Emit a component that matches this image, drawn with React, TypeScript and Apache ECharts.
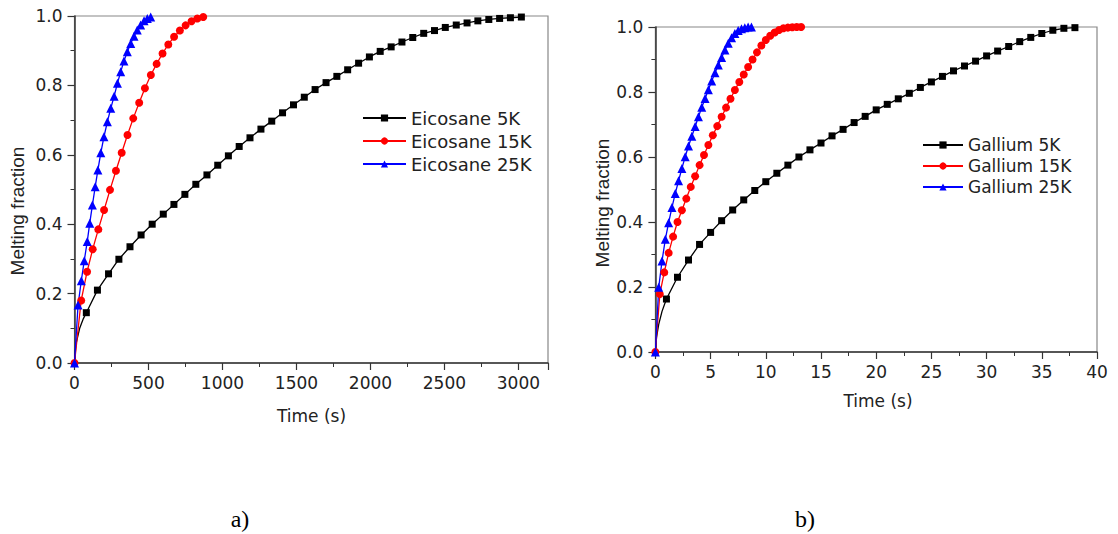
import React, { useEffect, useRef } from "react";
import * as echarts from "echarts";

// ---------- Data: Eicosane (panel a) ----------
const eic5kT = [0, 10, 35, 60, 80, 155, 230, 300, 375, 450, 525, 600, 672, 746, 820, 895, 968, 1040, 1113, 1186, 1260, 1333, 1406, 1480, 1553, 1626, 1700, 1773, 1846, 1920, 1993, 2066, 2140, 2213, 2286, 2360, 2433, 2506, 2580, 2653, 2726, 2800, 2873, 2946, 3020];
const eic5kV = [0, 0.055, 0.1, 0.128, 0.145, 0.21, 0.257, 0.299, 0.335, 0.369, 0.4, 0.429, 0.457, 0.486, 0.515, 0.542, 0.57, 0.597, 0.624, 0.649, 0.674, 0.697, 0.721, 0.744, 0.766, 0.788, 0.808, 0.826, 0.845, 0.864, 0.882, 0.898, 0.911, 0.925, 0.938, 0.95, 0.958, 0.967, 0.974, 0.98, 0.986, 0.99, 0.993, 0.995, 0.997];
const eic5kUnmarked = 4;

const eic15kT = [0, 45, 85, 123, 161, 200, 240, 280, 319, 358, 397, 437, 476, 516, 555, 595, 634, 673, 712, 751, 791, 830, 870];
const eic15kV = [0, 0.18, 0.263, 0.328, 0.385, 0.441, 0.499, 0.554, 0.606, 0.657, 0.705, 0.75, 0.792, 0.83, 0.862, 0.892, 0.918, 0.94, 0.958, 0.973, 0.985, 0.993, 0.997];

const eic25kT = [0, 24, 46, 66, 86, 103, 121, 140, 158, 178, 199, 222, 245, 268, 290, 312, 334, 357, 380, 402, 424, 447, 470, 492, 515];
const eic25kV = [0, 0.167, 0.237, 0.295, 0.35, 0.403, 0.455, 0.508, 0.556, 0.606, 0.652, 0.695, 0.734, 0.769, 0.806, 0.839, 0.87, 0.897, 0.921, 0.942, 0.96, 0.974, 0.986, 0.993, 0.997];

// ---------- Data: Gallium (panel b) ----------
const gal5kT = [0, 0.1, 0.3, 0.6, 1, 2, 3, 4, 5, 6, 7, 8, 9, 10, 11, 12, 13, 14, 15, 16, 17, 18, 19, 20, 21, 22, 23, 24, 25, 26, 27, 28, 29, 30, 31, 32, 33, 34, 35, 36, 37, 38];
const gal5kV = [0, 0.045, 0.085, 0.125, 0.163, 0.23, 0.283, 0.331, 0.368, 0.404, 0.437, 0.468, 0.497, 0.524, 0.55, 0.575, 0.6, 0.622, 0.643, 0.665, 0.685, 0.706, 0.725, 0.745, 0.762, 0.779, 0.796, 0.814, 0.831, 0.848, 0.865, 0.88, 0.895, 0.911, 0.926, 0.94, 0.955, 0.968, 0.98, 0.99, 0.996, 0.998];
const gal5kUnmarked = 4;

const gal15kT = [0, 0.4, 0.8, 1.2, 1.6, 2.0, 2.4, 2.8, 3.2, 3.6, 4.0, 4.4, 4.8, 5.2, 5.6, 6.0, 6.4, 6.8, 7.2, 7.6, 8.0, 8.4, 8.8, 9.2, 9.6, 10.0, 10.4, 10.8, 11.2, 11.6, 12.0, 12.4, 12.8, 13.2];
const gal15kV = [0, 0.178, 0.245, 0.305, 0.355, 0.4, 0.436, 0.472, 0.508, 0.541, 0.575, 0.606, 0.637, 0.667, 0.695, 0.724, 0.752, 0.779, 0.806, 0.831, 0.854, 0.877, 0.9, 0.922, 0.943, 0.96, 0.973, 0.983, 0.991, 0.996, 0.998, 0.999, 1.0, 1.0];

const gal25kT = [0, 0.3, 0.6, 0.9, 1.2, 1.5, 1.8, 2.1, 2.4, 2.7, 3.0, 3.3, 3.6, 3.9, 4.2, 4.5, 4.8, 5.1, 5.4, 5.7, 6.0, 6.3, 6.6, 6.9, 7.2, 7.5, 7.8, 8.1, 8.4, 8.7];
const gal25kV = [0, 0.199, 0.28, 0.347, 0.398, 0.445, 0.488, 0.527, 0.565, 0.601, 0.634, 0.664, 0.694, 0.724, 0.753, 0.78, 0.807, 0.834, 0.859, 0.883, 0.906, 0.929, 0.95, 0.967, 0.98, 0.989, 0.995, 0.998, 1.0, 1.0];

const eicNames = ["Eicosane 5K", "Eicosane 15K", "Eicosane 25K"];
const galNames = ["Gallium 5K", "Gallium 15K", "Gallium 25K"];
const yTicks = [0, 0.2, 0.4, 0.6, 0.8, 1.0];

const buildData = (t: number[], v: number[], unmarked = 0) =>
  t.map((x, i) => (i < unmarked ? { value: [x, v[i]], symbol: "none" } : { value: [x, v[i]] }));

const LABEL_FONT = "DejaVu Sans";

export default function App() {
  const ref = useRef<HTMLDivElement>(null);
  useEffect(() => {
    if (!ref.current) return;
    const chart = echarts.init(ref.current, undefined, { renderer: "svg" });

    const axisLine = { show: true, lineStyle: { color: "#333", width: 1.5 } };
    const axisTick = { show: true, inside: false, length: 7, lineStyle: { color: "#333", width: 1.2 } };
    const minorTick = { show: true, splitNumber: 2, length: 4, lineStyle: { color: "#333", width: 1 } };
    const labelStyle = { color: "#222", fontSize: 17, fontFamily: LABEL_FONT };

    const mkX = (gridIndex: number, max: number, interval: number) => ({
      type: "value",
      gridIndex,
      min: 0,
      max,
      interval,
      axisLine,
      axisTick,
      minorTick,
      splitLine: { show: false },
      axisLabel: {
        ...labelStyle,
        margin: 11,
        showMaxLabel: max % interval === 0,
        formatter: (v: number) => String(v),
      },
    });
    const mkY = (gridIndex: number) => ({
      type: "value",
      gridIndex,
      min: yTicks[0],
      max: yTicks[yTicks.length - 1],
      interval: 0.2,
      axisLine,
      axisTick,
      minorTick,
      splitLine: { show: false },
      axisLabel: { ...labelStyle, margin: 12, formatter: (v: number) => v.toFixed(1) },
    });

    const lineSeries = (name: string, idx: number, data: any[], color: string, symbol: string, size: number) => ({
      type: "line",
      name,
      xAxisIndex: idx,
      yAxisIndex: idx,
      data,
      symbol,
      symbolSize: size,
      showAllSymbol: true,
      clip: false,
      lineStyle: { color, width: 1.3 },
      itemStyle: { color },
      emphasis: { disabled: true },
    });

    const legendBase = {
      orient: "vertical",
      itemHeight: 9,
      padding: 0,
      selectedMode: false,
    };

    const yTitle = (x: number, y: number) => ({
      type: "text",
      x,
      y,
      rotation: Math.PI / 2,
      style: {
        text: "Melting fraction",
        fill: "#222",
        fontSize: 19,
        fontFamily: "Liberation Sans",
        align: "center",
        verticalAlign: "middle",
      },
    });

    chart.setOption({
      animation: false,
      grid: [
        { left: 74.5, top: 16, width: 473.5, height: 347, show: true, borderColor: "#888", borderWidth: 1.2 },
        { left: 655.4, top: 27, width: 441.6, height: 325, show: true, borderColor: "#888", borderWidth: 1.2 },
      ],
      xAxis: [mkX(0, 3200, 500), mkX(1, 40, 5)],
      yAxis: [mkY(0), mkY(1)],
      legend: [
        {
          ...legendBase,
          data: eicNames,
          left: 362,
          top: 109,
          itemWidth: 43,
          itemGap: 5,
          textStyle: { color: "#222", fontSize: 18, fontFamily: LABEL_FONT, lineHeight: 18 },
        },
        {
          ...legendBase,
          data: galNames,
          left: 922,
          top: 136.5,
          itemWidth: 40,
          itemGap: 4,
          textStyle: { color: "#222", fontSize: 17, fontFamily: LABEL_FONT, lineHeight: 17 },
        },
      ],
      series: [
        lineSeries(eicNames[0], 0, buildData(eic5kT, eic5kV, eic5kUnmarked), "#000000", "rect", 7),
        lineSeries(eicNames[1], 0, buildData(eic15kT, eic15kV), "#ff0000", "circle", 8),
        lineSeries(eicNames[2], 0, buildData(eic25kT, eic25kV), "#0000ff", "triangle", 9),
        lineSeries(galNames[0], 1, buildData(gal5kT, gal5kV, gal5kUnmarked), "#000000", "rect", 7),
        lineSeries(galNames[1], 1, buildData(gal15kT, gal15kV), "#ff0000", "circle", 8),
        lineSeries(galNames[2], 1, buildData(gal25kT, gal25kV), "#0000ff", "triangle", 9),
      ],
      graphic: [
        yTitle(17, 211),
        yTitle(602, 203),
        { type: "text", x: 311.5, y: 416, style: { text: "Time (s)", fill: "#222", fontSize: 17, fontFamily: LABEL_FONT, align: "center", verticalAlign: "middle" } },
        { type: "text", x: 878, y: 401, style: { text: "Time (s)", fill: "#222", fontSize: 17, fontFamily: LABEL_FONT, align: "center", verticalAlign: "middle" } },
        { type: "text", x: 240, y: 519, style: { text: "a)", fill: "#000", fontSize: 24, fontFamily: "Liberation Serif", align: "center", verticalAlign: "middle" } },
        { type: "text", x: 805, y: 519, style: { text: "b)", fill: "#000", fontSize: 24, fontFamily: "Liberation Serif", align: "center", verticalAlign: "middle" } },
      ],
    });

    return () => chart.dispose();
  }, []);

  return (
    <div
      ref={ref}
      style={{ position: "fixed", left: 0, top: 0, width: 1118, height: 534, background: "#fff" }}
    />
  );
}
